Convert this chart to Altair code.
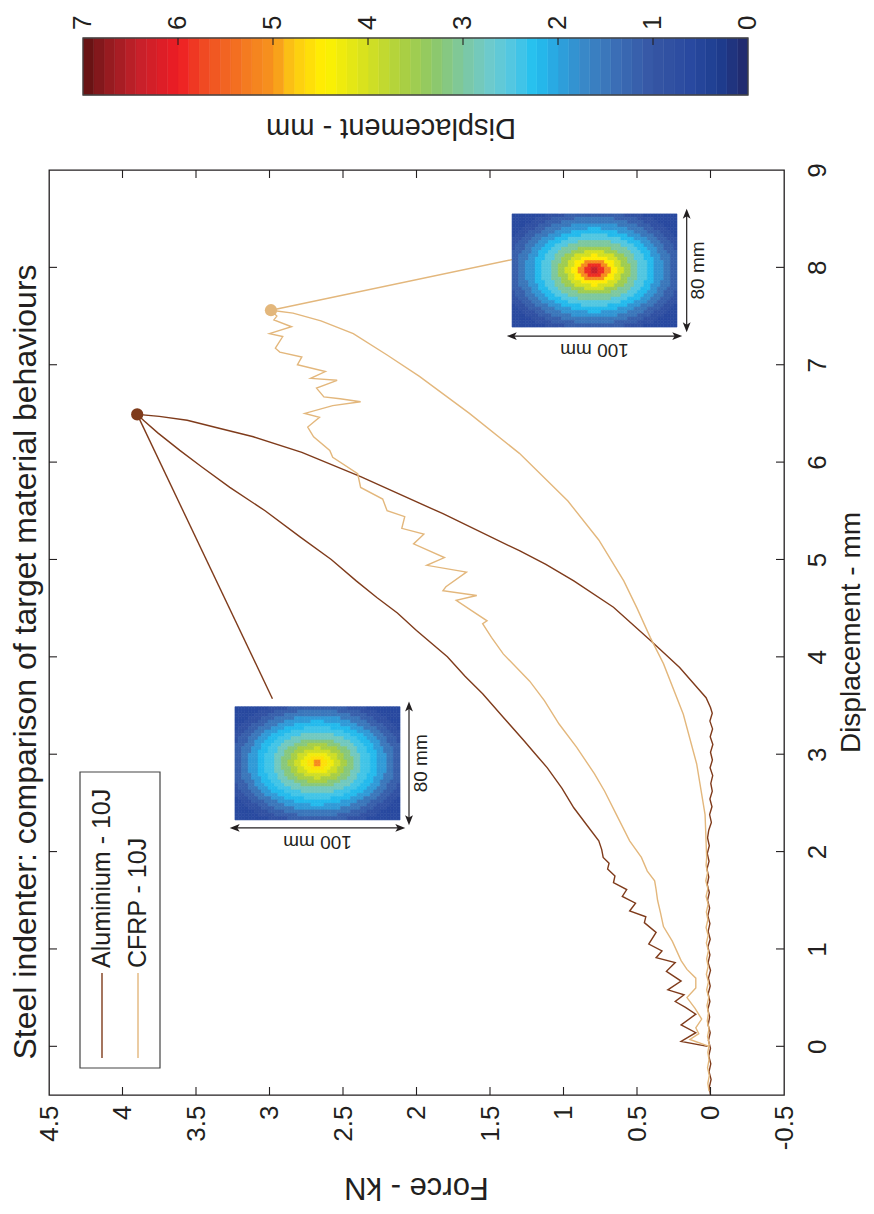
import altair as alt
import pandas as pd

# ------------------------------------------------------------------ data
series_names = ["Aluminium - 10J", "CFRP - 10J"]

# Aluminium: displacement (mm) / force (kN) along the recorded path
al_d = [0.00, 0.05, 0.14, 0.22, 0.33, 0.40, 0.46, 0.53, 0.58, 0.67,
        0.77, 0.86, 0.91, 0.98, 1.05, 1.17, 1.27, 1.33, 1.39, 1.47,
        1.54, 1.61, 1.68, 1.75, 1.82, 1.88, 1.94, 2.02, 2.11, 2.25,
        2.45, 2.65, 2.86, 3.00, 3.14, 3.38, 3.62, 3.80, 4.00, 4.27,
        4.45, 4.61, 4.78, 5.00, 5.23, 5.50, 5.74, 5.95, 6.12, 6.30,
        6.42, 6.49,
        6.47, 6.43, 6.35, 6.26, 6.10, 5.85, 5.47, 5.09, 4.95, 4.78,
        4.51, 4.17, 3.89, 3.70, 3.58, 3.48]
al_f = [0.02, 0.20, 0.10, 0.20, 0.10, 0.17, 0.24, 0.18, 0.29, 0.20,
        0.30, 0.24, 0.37, 0.33, 0.42, 0.37, 0.45, 0.44, 0.55, 0.51,
        0.60, 0.57, 0.66, 0.65, 0.70, 0.69, 0.73, 0.74, 0.76, 0.83,
        0.93, 1.01, 1.11, 1.19, 1.27, 1.41, 1.55, 1.67, 1.79, 2.00,
        2.13, 2.27, 2.41, 2.58, 2.79, 3.03, 3.27, 3.46, 3.61, 3.76,
        3.85, 3.90,
        3.75, 3.56, 3.35, 3.11, 2.78, 2.38, 1.82, 1.30, 1.12, 0.93,
        0.66, 0.41, 0.21, 0.10, 0.03, 0.00]
al_tail_d = [3.42, 3.34, 3.26, 3.18, 3.10, 3.02, 2.94, 2.86, 2.78, 2.70,
             2.62, 2.54, 2.46, 2.38, 2.30, 2.22, 2.14, 2.06, 1.98, 1.90,
             1.82, 1.74, 1.66, 1.58, 1.50, 1.42, 1.34, 1.26, 1.18, 1.10,
             1.02, 0.94, 0.86, 0.78, 0.70, 0.62, 0.54, 0.46, 0.38, 0.30,
             0.22, 0.14, 0.06, -0.02, -0.10, -0.18, -0.26, -0.34, -0.42, -0.50]
al_tail_f = [-0.012, 0.004, -0.014, 0.002, -0.016, 0.000, -0.013, 0.003, -0.015, -0.002,
             -0.012, 0.004, -0.010, 0.006, -0.006, 0.012, 0.020, 0.008, 0.022, 0.010,
             0.024, 0.012, 0.022, 0.008, 0.020, 0.006, 0.018, 0.004, 0.016, 0.002,
             0.018, 0.004, 0.016, 0.000, 0.014, 0.002, 0.016, 0.004, 0.018, 0.006,
             0.016, 0.002, 0.014, 0.000, 0.012, -0.002, 0.010, -0.004, 0.008, 0.000]

# CFRP
cf_d = [0.00, 0.07, 0.13, 0.19, 0.28, 0.39, 0.50, 0.60, 0.70, 0.79,
        0.88, 0.98, 1.08, 1.23, 1.37, 1.50, 1.61, 1.70, 1.80, 1.94,
        2.11, 2.38, 2.62, 2.80, 3.07, 3.31, 3.55, 3.75, 4.03, 4.20,
        4.34, 4.37, 4.47, 4.58, 4.63, 4.68, 4.72, 4.87, 4.94, 5.02,
        5.16, 5.26, 5.32, 5.44, 5.50, 5.62, 5.74, 5.88, 6.05, 6.12,
        6.26, 6.36, 6.46, 6.50, 6.58, 6.62, 6.65, 6.67, 6.76, 6.84,
        6.86, 6.93, 7.00, 7.08, 7.13, 7.17, 7.29, 7.32, 7.39, 7.46,
        7.50, 7.56,
        7.53, 7.45, 7.32, 7.10, 6.88, 6.50, 6.09, 5.60, 5.20, 4.78,
        4.50, 4.20, 3.93, 3.41, 2.90, 2.38, 1.94]
cf_f = [0.01, 0.14, 0.08, 0.10, 0.06, 0.105, 0.16, 0.10, 0.10, 0.16,
        0.20, 0.23, 0.26, 0.32, 0.34, 0.36, 0.37, 0.38, 0.43, 0.47,
        0.55, 0.64, 0.72, 0.79, 0.91, 1.03, 1.13, 1.23, 1.41, 1.49,
        1.55, 1.52, 1.62, 1.73, 1.59, 1.82, 1.80, 1.66, 1.93, 1.81,
        2.02, 1.95, 2.10, 2.08, 2.20, 2.23, 2.38, 2.40, 2.57, 2.59,
        2.70, 2.74, 2.66, 2.76, 2.57, 2.38, 2.52, 2.63, 2.68, 2.54,
        2.72, 2.62, 2.81, 2.78, 2.93, 2.96, 2.91, 3.00, 2.85, 2.97,
        2.95, 2.99,
        2.84, 2.65, 2.43, 2.20, 1.98, 1.64, 1.30, 0.97, 0.76, 0.59,
        0.50, 0.41, 0.32, 0.185, 0.094, 0.037, 0.026]
cf_tail_d = [1.86, 1.78, 1.70, 1.62, 1.54, 1.46, 1.38, 1.30, 1.22, 1.14,
             1.06, 0.98, 0.90, 0.82, 0.74, 0.66, 0.58, 0.50, 0.42, 0.34,
             0.26, 0.18, 0.10, 0.02, -0.06, -0.14, -0.22, -0.30, -0.38, -0.46]
cf_tail_f = [0.030, 0.020, 0.032, 0.018, 0.030, 0.016, 0.028, 0.018, 0.030, 0.016,
             0.028, 0.014, 0.026, 0.016, 0.028, 0.014, 0.026, 0.012, 0.024, 0.014,
             0.022, 0.010, 0.020, 0.008, 0.018, 0.010, 0.020, 0.008, 0.018, 0.010]

# peak markers
peak_d = [6.49, 7.56]
peak_f = [3.90, 2.99]
# callout end points (edge of each displacement-field image)
callout_d = [3.57, 8.08]
callout_f = [2.98, 1.35]

force_ticks = [-0.5, 0, 0.5, 1, 1.5, 2, 2.5, 3, 3.5, 4, 4.5]
disp_ticks = [0, 1, 2, 3, 4, 5, 6, 7, 8, 9]
cbar_ticks = [0, 1, 2, 3, 4, 5, 6, 7]

# colour map (displacement - mm)
cmap_v = [0.0, 0.3, 0.6, 1.0, 1.4, 1.7, 2.0, 2.25, 2.45, 2.7, 3.0, 3.3,
          3.6, 4.0, 4.45, 4.8, 5.0, 5.3, 5.7, 6.0, 6.4, 6.8, 7.0]
cmap_c = ["#22286a", "#1e3d8f", "#2949a0", "#3656a4", "#3b6fb6", "#3a86c6",
          "#2ba4df", "#22c0f0", "#4dc6e5", "#6ccad0", "#7dc8a0", "#8dc86a",
          "#a8cf45", "#d4e021", "#fff200", "#fcc813", "#f7941d", "#f47920",
          "#f04e23", "#ed1c24", "#c8202a", "#8b1a1e", "#5c1010"]

# displacement-field images: ring edges (normalised radius) and ring values (mm)
ring_r = [0.06, 0.12, 0.19, 0.27, 0.35, 0.44, 0.54, 0.64, 0.74, 0.84, 0.94, 1.04, 1.15, 9.0]
al_ring_v = [5.1, 4.6, 4.3, 3.95, 3.6, 3.2, 2.8, 2.4, 2.2, 1.9, 1.5, 1.15, 0.85, 0.6]
cf_ring_v = [6.4, 5.9, 5.1, 4.5, 4.0, 3.5, 3.0, 2.5, 2.2, 1.85, 1.5, 1.15, 0.85, 0.6]

# ------------------------------------------------------------------ style / layout
AL = "#7f3b1b"
CF = "#e3b77c"
INK = "#231f20"
FONT = "Liberation Sans, Arial, Helvetica, sans-serif"
W, H = 735, 925

# image extents in data units (f_left, f_right, d_top, d_bottom)
insets = [
    dict(name="al", vals=al_ring_v, f0=3.235, f1=2.112, d0=3.488, d1=2.325,
         fv=2.051, dh=2.243, ftxt=1.972, dtxt=2.095),
    dict(name="cf", vals=cf_ring_v, f0=1.350, f1=0.228, d0=8.549, d1=7.387,
         fv=0.162, dh=7.294, ftxt=0.087, dtxt=7.155),
]

xs = alt.Scale(domain=[4.5, -0.5], nice=False, zero=False)
ys = alt.Scale(domain=[-0.5, 9.0], nice=False, zero=False)
cs = alt.Scale(domain=cmap_v, range=cmap_c, interpolate="rgb")

x_axis = alt.Axis(values=force_ticks, labelAngle=270, labelAlign="right",
                  labelBaseline="middle", labelPadding=10, labelFontSize=26,
                  labelFont=FONT, labelColor=INK, labelFlush=False,
                  labelOverlap=False, ticks=False, tickSize=0, domain=False,
                  grid=False, title=None, labelExpr="'' + datum.value")
y_axis = alt.Axis(orient="right", values=disp_ticks, labelAngle=270,
                  labelAlign="center", labelBaseline="top", labelPadding=20,
                  labelFontSize=26, labelFont=FONT, labelColor=INK,
                  labelFlush=False, labelOverlap=False, ticks=False,
                  tickSize=0, domain=False, grid=False, title=None)


def X(field):
    return alt.X(field, type="quantitative", scale=xs, axis=x_axis)


def Y(field):
    return alt.Y(field, type="quantitative", scale=ys, axis=y_axis)


def path_df(ds, fs):
    return pd.DataFrame({"i": list(range(len(ds))), "d": ds, "f": fs})


al_path = path_df(al_d + al_tail_d, al_f + al_tail_f)
cf_path = path_df(cf_d + cf_tail_d, cf_f + cf_tail_f)

layers = []

# callout lines
for k, col in enumerate([AL, CF]):
    df = pd.DataFrame({"f": [peak_f[k]], "d": [peak_d[k]],
                       "f2": [callout_f[k]], "d2": [callout_d[k]]})
    layers.append(alt.Chart(df).mark_rule(color=col, strokeWidth=1.4).encode(
        x=X("f"), y=Y("d"), x2="f2:Q", y2="d2:Q"))

# curves
for df, col in [(al_path, AL), (cf_path, CF)]:
    layers.append(alt.Chart(df).mark_line(color=col, strokeWidth=1.4, clip=True).encode(
        x=X("f"), y=Y("d"), order="i:Q"))

# displacement-field images
for ins in insets:
    nx, ny = 50, 34
    rows = []
    for j in range(ny):
        for k in range(nx):
            u = (k + 0.5) / nx * 2 - 1
            w = (j + 0.5) / ny * 2 - 1
            r = (u * u + w * w) ** 0.5
            idx = next(n for n, e in enumerate(ring_r) if r < e)
            rows.append({
                "f": ins["f0"] + (ins["f1"] - ins["f0"]) * k / nx,
                "f2": ins["f0"] + (ins["f1"] - ins["f0"]) * (k + 1) / nx,
                "d": ins["d0"] + (ins["d1"] - ins["d0"]) * j / ny,
                "d2": ins["d0"] + (ins["d1"] - ins["d0"]) * (j + 1) / ny,
                "v": ins["vals"][idx],
            })
    cells = pd.DataFrame(rows)
    layers.append(alt.Chart(cells).mark_rect(strokeWidth=0.6).encode(
        x=X("f"), x2="f2:Q", y=Y("d"), y2="d2:Q",
        color=alt.Color("v:Q", scale=cs, legend=None),
        stroke=alt.Stroke("v:Q", scale=cs, legend=None)))

    # dimension arrows
    va = pd.DataFrame({"f": [ins["fv"]], "d": [ins["d0"]], "d2": [ins["d1"]]})
    layers.append(alt.Chart(va).mark_rule(color=INK, strokeWidth=1.2).encode(
        x=X("f"), y=Y("d"), y2="d2:Q"))
    ha = pd.DataFrame({"f": [ins["f0"]], "f2": [ins["f1"]], "d": [ins["dh"]]})
    layers.append(alt.Chart(ha).mark_rule(color=INK, strokeWidth=1.2).encode(
        x=X("f"), x2="f2:Q", y=Y("d")))
    heads = [
        ("M0,-1L0.75,0.9L0,0.45L-0.75,0.9Z", ins["fv"], ins["d0"], 0, 5),
        ("M0,1L0.75,-0.9L0,-0.45L-0.75,-0.9Z", ins["fv"], ins["d1"], 0, -5),
        ("M-1,0L0.9,-0.75L0.45,0L0.9,0.75Z", ins["f0"], ins["dh"], 5, 0),
        ("M1,0L-0.9,-0.75L-0.45,0L-0.9,0.75Z", ins["f1"], ins["dh"], -5, 0),
    ]
    for shp, hf, hd, ddx, ddy in heads:
        layers.append(alt.Chart(pd.DataFrame({"f": [hf], "d": [hd]})).mark_point(
            shape=shp, size=110, filled=True, color=INK, opacity=1,
            dx=ddx, dy=ddy).encode(x=X("f"), y=Y("d")))
    # dimension labels
    t80 = pd.DataFrame({"f": [ins["ftxt"]], "d": [(ins["d0"] + ins["d1"]) / 2], "t": ["80 mm"]})
    layers.append(alt.Chart(t80).mark_text(angle=270, align="center", baseline="middle",
                                           font=FONT, fontSize=19, color=INK).encode(
        x=X("f"), y=Y("d"), text="t:N"))
    t100 = pd.DataFrame({"f": [(ins["f0"] + ins["f1"]) / 2], "d": [ins["dtxt"]], "t": ["100 mm"]})
    layers.append(alt.Chart(t100).mark_text(angle=180, align="center", baseline="middle",
                                            font=FONT, fontSize=19, color=INK).encode(
        x=X("f"), y=Y("d"), text="t:N"))

# peak markers
for k, col in enumerate([AL, CF]):
    df = pd.DataFrame({"f": [peak_f[k]], "d": [peak_d[k]]})
    layers.append(alt.Chart(df).mark_circle(size=150, color=col, opacity=1).encode(
        x=X("f"), y=Y("d")))

# inward tick marks on all four sides of the frame
fdf = pd.DataFrame({"f": force_ticks[1:-1]})
ddf = pd.DataFrame({"d": disp_ticks[:-1]})
layers.append(alt.Chart(fdf).mark_rule(color=INK, strokeWidth=1.1).encode(
    x=X("f"), y=alt.value(H), y2=alt.value(H - 8)))
layers.append(alt.Chart(fdf).mark_rule(color=INK, strokeWidth=1.1).encode(
    x=X("f"), y=alt.value(0), y2=alt.value(8)))
layers.append(alt.Chart(ddf).mark_rule(color=INK, strokeWidth=1.1).encode(
    y=Y("d"), x=alt.value(0), x2=alt.value(8)))
layers.append(alt.Chart(ddf).mark_rule(color=INK, strokeWidth=1.1).encode(
    y=Y("d"), x=alt.value(W), x2=alt.value(W - 8)))

one = pd.DataFrame({"k": [0]})

# legend box
layers.append(alt.Chart(one).mark_rect(fill="white", stroke="#444", strokeWidth=1.2).encode(
    x=alt.value(31), x2=alt.value(111), y=alt.value(602), y2=alt.value(898)))
for k, (col, xpos) in enumerate([(AL, 53), (CF, 89)]):
    layers.append(alt.Chart(one).mark_rule(color=col, strokeWidth=1.4).encode(
        x=alt.value(xpos), y=alt.value(888), y2=alt.value(803)))
    layers.append(alt.Chart(pd.DataFrame({"t": [series_names[k]]})).mark_text(
        angle=270, align="left", baseline="middle", font=FONT, fontSize=25,
        color=INK).encode(x=alt.value(xpos), y=alt.value(798), text="t:N"))

# titles
def label(txt, xp, yp, ang, size):
    return alt.Chart(pd.DataFrame({"t": [txt]})).mark_text(
        angle=ang, align="center", baseline="middle", font=FONT, fontSize=size,
        color=INK).encode(x=alt.value(xp), y=alt.value(yp), text="t:N")


layers.append(label("Steel indenter: comparison of target material behaviours", -23, 492, 270, 32))
layers.append(label("Force - kN", W / 2, 1017, 180, 31))
layers.append(label("Displacement - mm", 803, H / 2, 270, 28))
layers.append(label("Displacement - mm", 342, -42, 180, 29))

main = alt.layer(*layers)

# ------------------------------------------------------------------ colour bar
cbs = alt.Scale(domain=[7, 0], range=[34, 699], nice=False, zero=False)
nb = 63
bands = pd.DataFrame({"v0": [i * 7 / nb for i in range(nb)],
                      "v1": [(i + 1) * 7 / nb for i in range(nb)],
                      "vc": [(i + 0.5) * 7 / nb for i in range(nb)]})
cb_bands = alt.Chart(bands).mark_rect(strokeWidth=0.5).encode(
    x=alt.X("v0:Q", scale=cbs, axis=None), x2="v1:Q",
    y=alt.value(-132), y2=alt.value(-75),
    color=alt.Color("vc:Q", scale=cs, legend=None),
    stroke=alt.Stroke("vc:Q", scale=cs, legend=None))
cb_border = alt.Chart(one).mark_rect(fillOpacity=0, stroke="#444", strokeWidth=1.3).encode(
    x=alt.value(34), x2=alt.value(699), y=alt.value(-132), y2=alt.value(-75))
ctick = pd.DataFrame({"v": cbar_ticks, "t": [str(v) for v in cbar_ticks]})
cb_ticks = alt.Chart(ctick[(ctick.v > 0) & (ctick.v < 7)]).mark_rule(color=INK, strokeWidth=1.1).encode(
    x=alt.X("v:Q", scale=cbs, axis=None), y=alt.value(-132), y2=alt.value(-125))
cb_labels = alt.Chart(ctick).mark_text(angle=270, align="left", baseline="middle",
                                       font=FONT, fontSize=26, color=INK).encode(
    x=alt.X("v:Q", scale=cbs, axis=None), y=alt.value(-140), text="t:N")
cbar = alt.layer(cb_bands, cb_border, cb_ticks, cb_labels)

chart = alt.layer(main, cbar).resolve_scale(x="independent").properties(
    width=W, height=H,
    autosize=alt.AutoSizeParams(type="none"),
    padding={"left": 41, "top": 162, "right": 82, "bottom": 111},
).configure_view(stroke=INK, strokeWidth=1.3)

chart.save("out.html", embed_options={"renderer": "svg", "actions": False})
